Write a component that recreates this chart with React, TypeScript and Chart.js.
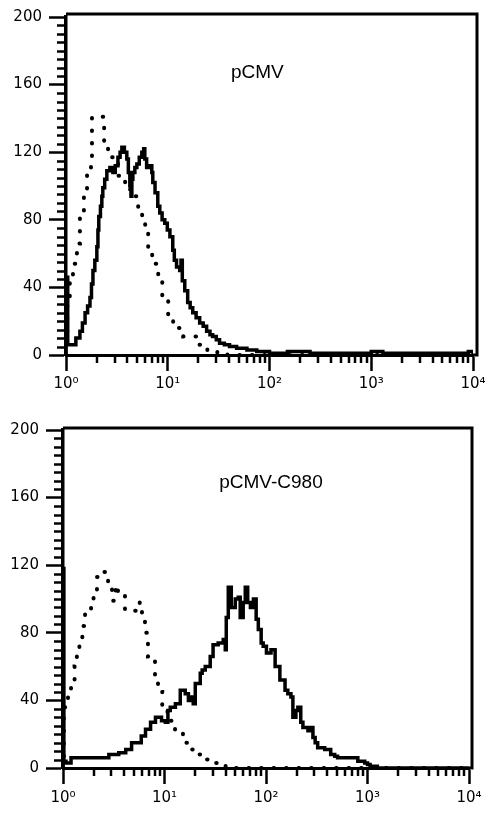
import React, { useEffect, useRef } from 'react';
import { Chart, registerables } from 'chart.js';

Chart.register(...registerables);

// ---- axis / tick definitions ----
const xTickValues = [1, 10, 100, 1000, 10000];
const xTickLabels = ['10⁰', '10¹', '10²', '10³', '10⁴'];
const yTickValues = [0, 40, 80, 120, 160, 200];
const panelTitles = ['pCMV', 'pCMV-C980'];

// ---- data: [fluorescence, counts] histogram steps ----
const pcmvSolid: [number, number][] = [
  [1, 0], [1, 46], [1.04, 6], [1.17, 6], [1.25, 10], [1.37, 14], [1.45, 19], [1.54, 25], [1.63, 29],
  [1.72, 34], [1.78, 42], [1.84, 50], [1.92, 56], [2.01, 64], [2.06, 74], [2.1, 82], [2.18, 88],
  [2.25, 94], [2.3, 99], [2.4, 104], [2.52, 109], [2.7, 111], [2.89, 108], [3.05, 112], [3.24, 117],
  [3.4, 120], [3.54, 123], [3.75, 120], [3.96, 116], [4.1, 108], [4.24, 100], [4.35, 94], [4.44, 104],
  [4.54, 108], [4.75, 111], [4.97, 113], [5.25, 117], [5.56, 120], [5.8, 122], [5.95, 116], [6.2, 111],
  [6.5, 112], [6.97, 108], [7.13, 102], [7.5, 96], [7.98, 88], [8.35, 84], [8.8, 80], [9.35, 78],
  [9.9, 74], [10.5, 70], [11.2, 62], [11.6, 56], [12.2, 52], [13.1, 50], [13.5, 56], [13.9, 44],
  [14.7, 38], [15.7, 31], [16.6, 28], [17.6, 25], [19, 22], [20.6, 19], [22.3, 17], [24.1, 14],
  [26, 12], [27.6, 11], [30, 9], [32.3, 7], [36, 6], [40.5, 5], [47.5, 4], [60, 3], [75, 2], [100, 1],
  [150, 2], [250, 1], [500, 1], [1000, 2], [1300, 1], [3000, 1], [6000, 1], [9000, 2], [10000, 0],
];

const pcmvDotted: [number, number][] = [
  [1, 0], [1.03, 30], [1.09, 46], [1.17, 54], [1.28, 66], [1.37, 82], [1.5, 98], [1.61, 109],
  [1.76, 117], [1.8, 141], [2.37, 125], [2.59, 121], [2.84, 117], [3.25, 106], [3.81, 98], [4.57, 94],
  [5.12, 86], [5.6, 80], [6.0, 72], [6.42, 62], [7.03, 54], [8.06, 46], [8.83, 34], [10.1, 23],
  [11.3, 16], [14.2, 11], [19.5, 6], [24.5, 2], [30.7, 1], [38.6, 0], [10000, 0],
];

const c980Solid: [number, number][] = [
  [1, 0], [1, 118], [1.02, 4], [1.07, 3], [1.2, 6], [2.64, 6], [2.83, 8], [3.54, 9], [4.15, 11],
  [4.74, 15], [5.56, 15], [5.9, 19], [6.5, 23], [7.29, 27], [8.15, 30], [8.73, 30], [9.35, 28],
  [10.2, 27], [10.8, 34], [11.4, 36], [12.8, 38], [14.3, 46], [16.0, 44], [17.2, 40], [18.0, 42],
  [19.2, 38], [20.1, 50], [22.5, 56], [23.5, 58], [25.2, 60], [28.2, 66], [30.1, 73], [33.8, 74],
  [37.9, 76], [39.7, 70], [40.6, 89], [42.5, 107], [45.5, 95], [49.8, 100], [53.3, 101], [55.7, 89],
  [59.6, 98], [62.5, 107], [66, 98], [70.2, 95], [75.2, 100], [80, 88], [84, 82], [89.6, 74],
  [93.8, 72], [101, 68], [106, 68], [112, 70], [123, 60], [137, 52], [154, 46], [164, 44], [176, 42],
  [184, 30], [197, 34], [206, 36], [220, 27], [231, 24], [259, 22], [270, 24], [290, 18], [305, 15],
  [323, 12], [379, 11], [434, 8], [475, 7], [507, 6], [683, 6], [803, 4], [939, 3], [1000, 2],
  [1060, 1], [1250, 0], [10000, 0],
];

const c980Dotted: [number, number][] = [
  [1, 0], [1.02, 36], [1.12, 44], [1.2, 52], [1.3, 60], [1.37, 68], [1.45, 76], [1.55, 84],
  [1.65, 92], [1.89, 98], [2.0, 105], [2.16, 113], [2.5, 116], [2.78, 107], [3.04, 99], [3.3, 108],
  [3.48, 102], [4.08, 93], [5.7, 98], [6.0, 90], [6.42, 80], [6.87, 66], [8.06, 52], [8.63, 45],
  [9.5, 36], [10.7, 28], [12.7, 21], [15.2, 15], [17.4, 11], [20, 8], [23.9, 5], [28, 3], [32.9, 2],
  [40, 0], [10000, 0],
];

const TICK_FONT = { family: '"DejaVu Sans", sans-serif', size: 15 };

const framePlugin = {
  id: 'frame',
  afterDraw(chart: any, _args: any, opts: any) {
    const { ctx, chartArea: a, scales } = chart;
    const xs = scales.x;
    const ys = scales.y;
    ctx.save();
    ctx.strokeStyle = '#000';
    ctx.lineCap = 'butt';
    // minor y ticks
    ctx.lineWidth = 2.5;
    for (let v = 5; v < 200; v += 5) {
      if (v % 40 === 0) continue;
      const py = Math.round(ys.getPixelForValue(v)) + 0.5;
      ctx.beginPath();
      ctx.moveTo(a.left - 9, py);
      ctx.lineTo(a.left, py);
      ctx.stroke();
    }
    // minor x ticks
    for (let d = 0; d < 4; d++) {
      for (let k = 2; k <= 9; k++) {
        const px = Math.round(xs.getPixelForValue(k * Math.pow(10, d)));
        ctx.beginPath();
        ctx.moveTo(px, a.bottom);
        ctx.lineTo(px, a.bottom + 8);
        ctx.stroke();
      }
    }
    // top / right frame
    ctx.lineWidth = 3;
    const r = a.right + opts.rightGap;
    const t = a.top - opts.topGap;
    ctx.beginPath();
    ctx.moveTo(a.left, t);
    ctx.lineTo(r, t);
    ctx.lineTo(r, a.bottom);
    ctx.lineTo(a.right, a.bottom);
    ctx.stroke();
    // panel label
    ctx.fillStyle = '#000';
    ctx.font = '19px "Liberation Sans", Arial, sans-serif';
    ctx.textAlign = 'center';
    ctx.textBaseline = 'middle';
    ctx.fillText(opts.title, xs.getPixelForValue(opts.titleX), ys.getPixelForValue(opts.titleY));
    ctx.restore();
  },
};

type PanelProps = {
  top: number;
  height: number;
  yWidth: number;
  plotTop: number;
  rightPad: number;
  xHeight: number;
  xPad: number;
  solid: [number, number][];
  dotted: [number, number][];
  title: string;
  titleX: number;
  titleY: number;
  rightGap: number;
  topGap: number;
};

function Panel(p: PanelProps) {
  const ref = useRef<HTMLCanvasElement>(null);
  useEffect(() => {
    const chart = new Chart(ref.current as HTMLCanvasElement, {
      type: 'line',
      data: {
        datasets: [
          {
            data: p.solid.map(([x, y]) => ({ x, y })),
            borderColor: '#000',
            borderWidth: 3.5,
            stepped: true,
            pointRadius: 0,
            fill: false,
          },
          {
            data: p.dotted.map(([x, y]) => ({ x, y })),
            borderColor: '#000',
            borderWidth: 4,
            borderDash: [0.5, 12],
            borderCapStyle: 'round',
            stepped: true,
            pointRadius: 0,
            fill: false,
          },
        ],
      },
      options: {
        animation: false,
        responsive: false,
        maintainAspectRatio: false,
        devicePixelRatio: 1,
        events: [],
        layout: { padding: { top: p.plotTop, right: p.rightPad, left: 0, bottom: 0 } },
        plugins: {
          legend: { display: false },
          tooltip: { enabled: false },
          title: { display: false },
          frame: { title: p.title, titleX: p.titleX, titleY: p.titleY, rightGap: p.rightGap, topGap: p.topGap },
        } as any,
        scales: {
          x: {
            type: 'logarithmic',
            min: 1,
            max: 10000,
            afterBuildTicks: (s: any) => {
              s.ticks = xTickValues.map((v) => ({ value: v }));
            },
            afterFit: (s: any) => {
              s.height = p.xHeight;
              s.paddingLeft = 0;
              s.paddingRight = 0;
            },
            ticks: {
              autoSkip: false,
              maxRotation: 0,
              color: '#000',
              font: TICK_FONT,
              padding: p.xPad,
              callback: (v: any) => xTickLabels[xTickValues.indexOf(Number(v))] ?? '',
            },
            grid: { drawOnChartArea: false, drawTicks: true, tickLength: 16, tickWidth: 2.5, tickColor: '#000' },
            border: { display: true, color: '#000', width: 3 },
          },
          y: {
            type: 'linear',
            min: 0,
            max: 200,
            afterBuildTicks: (s: any) => {
              s.ticks = yTickValues.map((v) => ({ value: v }));
            },
            afterFit: (s: any) => {
              s.width = p.yWidth;
            },
            ticks: { color: '#000', font: TICK_FONT, padding: 7 },
            grid: { drawOnChartArea: false, drawTicks: true, tickLength: 17, tickWidth: 2.5, tickColor: '#000' },
            border: { display: true, color: '#000', width: 3.5 },
          },
        },
      } as any,
      plugins: [framePlugin],
    });
    return () => chart.destroy();
  }, []);
  return (
    <canvas
      ref={ref}
      width={485}
      height={p.height}
      style={{ position: 'absolute', left: 0, top: p.top, width: 485, height: p.height }}
    />
  );
}

export default function App() {
  return (
    <div style={{ position: 'absolute', left: 0, top: 0, width: 485, height: 818, background: '#fff' }}>
      <Panel
        top={0}
        height={400}
        yWidth={66}
        plotTop={17}
        rightPad={12}
        xHeight={45}
        xPad={4}
        solid={pcmvSolid}
        dotted={pcmvDotted}
        title={panelTitles[0]}
        titleX={76}
        titleY={167}
        rightGap={4}
        topGap={3}
      />
      <Panel
        top={400}
        height={418}
        yWidth={63}
        plotTop={30}
        rightPad={16}
        xHeight={50}
        xPad={5}
        solid={c980Solid}
        dotted={c980Dotted}
        title={panelTitles[1]}
        titleX={112}
        titleY={169}
        rightGap={3}
        topGap={2}
      />
    </div>
  );
}
